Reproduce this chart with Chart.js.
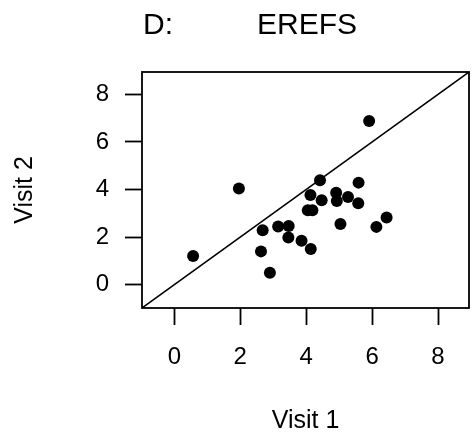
<!DOCTYPE html>
<html>
<head>
<meta charset="utf-8">
<script src="https://cdn.jsdelivr.net/npm/chart.js@4.4.0/dist/chart.umd.min.js"></script>
<style>
  body { margin: 0; background: #fff; }
  canvas { display: block; }
</style>
</head>
<body>
<canvas id="scatter-canvas" width="475" height="446"></canvas>
<script>
// EREFS score per patient, visit 1 vs visit 2
var visit1 = [0.57, 1.96, 5.91, 2.68, 2.63, 2.90, 3.15, 3.47, 3.46, 3.86, 4.14, 4.05,
              4.19, 4.13, 4.42, 4.47, 4.91, 4.93, 5.27, 5.59, 5.58, 5.04, 6.13, 6.44];
var visit2 = [1.21, 4.04, 6.88, 2.29, 1.40, 0.50, 2.45, 2.47, 1.98, 1.85, 1.50, 3.13,
              3.13, 3.77, 4.39, 3.55, 3.86, 3.52, 3.69, 4.29, 3.42, 2.55, 2.43, 2.82];
var tickValues = [0, 2, 4, 6, 8];
var axisRange = [-0.98, 8.94];
var panelLabel = 'D:';
var panelTitle = 'EREFS';

var fontFamily = '"Liberation Sans", Arial, sans-serif';

var points = visit1.map(function (v, i) { return { x: v, y: visit2[i] }; });

// R style: box round the plot, title drawn at fixed spots
var boxAndTitle = {
  id: 'boxAndTitle',
  afterDraw: function (chart) {
    var ctx = chart.ctx, a = chart.chartArea;
    ctx.save();
    ctx.strokeStyle = '#000';
    ctx.lineWidth = 1.8;
    ctx.strokeRect(a.left, a.top, a.right - a.left, a.bottom - a.top);
    ctx.fillStyle = '#000';
    ctx.font = '30px ' + fontFamily;
    ctx.textBaseline = 'alphabetic';
    ctx.textAlign = 'left';
    ctx.fillText(panelLabel, 143, 33.5);
    ctx.fillText(panelTitle, 257, 33.5);
    ctx.restore();
  }
};

function axisOptions(titleText, isX) {
  return {
    type: 'linear',
    min: axisRange[0],
    max: axisRange[1],
    afterBuildTicks: function (scale) {
      scale.ticks = tickValues.map(function (v) { return { value: v }; });
    },
    afterFit: function (scale) {
      if (isX) scale.height = 138; else scale.width = 142;
    },
    grid: {
      display: true,
      drawOnChartArea: false,
      drawTicks: true,
      tickLength: 17,
      tickColor: '#000',
      tickWidth: 1.8
    },
    border: { display: false },
    ticks: {
      color: '#000',
      padding: isX ? 18 : 16,
      font: { family: fontFamily, size: 24 }
    },
    title: {
      display: true,
      text: titleText,
      color: '#000',
      font: { family: fontFamily, size: 25 },
      padding: isX ? { top: 0, bottom: 10 } : { top: 10, bottom: 0 }
    }
  };
}

var ctx = document.getElementById('scatter-canvas').getContext('2d');
var chart1 = new Chart(ctx, {
  type: 'scatter',
  data: {
    datasets: [{
      type: 'line',
      data: [{ x: axisRange[0], y: axisRange[0] }, { x: axisRange[1], y: axisRange[1] }],
      borderColor: '#000',
      borderWidth: 1.5,
      pointRadius: 0,
      fill: false
    }, {
      data: points,
      backgroundColor: '#000',
      borderWidth: 0,
      pointRadius: 6
    }]
  },
  options: {
    responsive: false,
    animation: false,
    devicePixelRatio: 1,
    layout: { padding: { top: 72, right: 3, left: 0, bottom: 0 } },
    plugins: {
      legend: { display: false },
      title: { display: false },
      tooltip: { enabled: false }
    },
    scales: {
      x: axisOptions('Visit 1', true),
      y: axisOptions('Visit 2', false)
    }
  },
  plugins: [boxAndTitle]
});
</script>
</body>
</html>
